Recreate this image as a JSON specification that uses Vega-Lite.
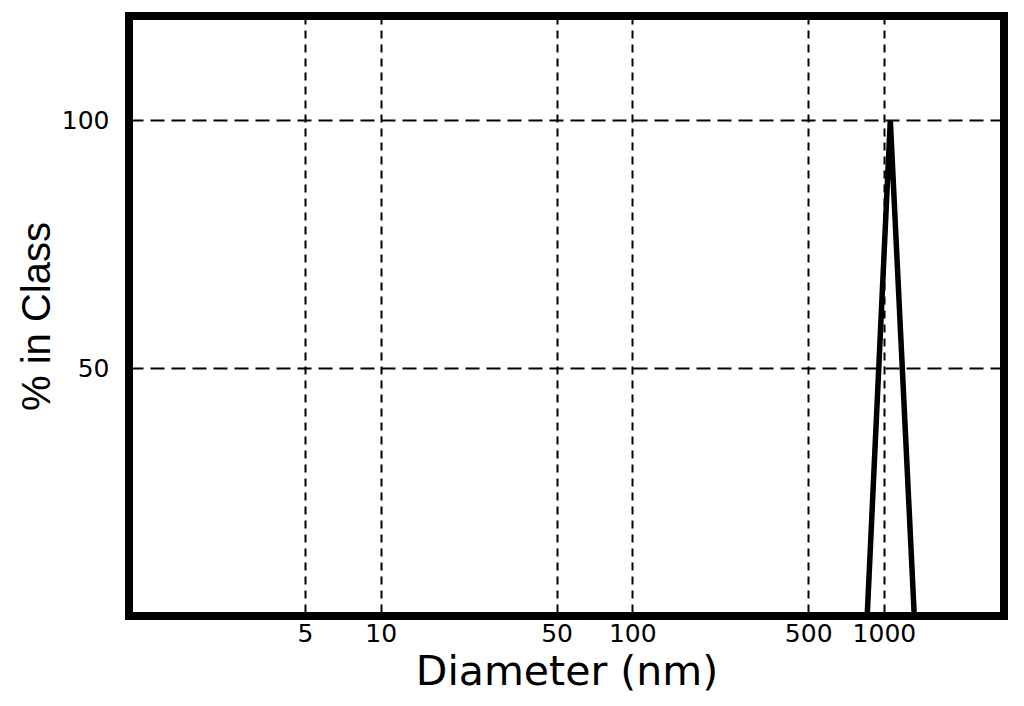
{
  "$schema": "https://vega.github.io/schema/vega-lite/v6.json",
  "autosize": "none",
  "width": 875,
  "height": 600,
  "padding": {"left": 129, "top": 16, "right": 20, "bottom": 90},
  "background": "white",
  "config": {
    "view": {"stroke": "black", "strokeWidth": 8},
    "axis": {"domain": false, "ticks": false, "gridColor": "black", "gridOpacity": 1, "gridWidth": 2, "labelColor": "black", "titleColor": "black"}
  },
  "data": {
    "values": [
      {"d": 858, "p": 0},
      {"d": 1060, "p": 100},
      {"d": 1320, "p": 0}
    ]
  },
  "mark": {"type": "line", "color": "black", "strokeWidth": 5.5, "clip": true, "strokeJoin": "miter"},
  "encoding": {
    "x": {
      "field": "d", "type": "quantitative",
      "scale": {"type": "log", "domain": [1, 3000], "nice": false},
      "axis": {
        "title": "Diameter (nm)",
        "values": [5, 10, 50, 100, 500, 1000],
        "format": "d",
        "grid": true, "gridDash": [8, 6],
        "labelFont": "DejaVu Sans", "labelFontSize": 25, "labelPadding": 5,
        "titleFont": "DejaVu Sans", "titleFontSize": 41, "titleFontWeight": "normal",
        "titleBaseline": "alphabetic", "titleY": 68
      }
    },
    "y": {
      "field": "p", "type": "quantitative",
      "scale": {"domain": [0, 121], "nice": false},
      "axis": {
        "title": "% in Class",
        "values": [50, 100],
        "grid": true, "gridDash": [14, 7],
        "labelFont": "DejaVu Sans", "labelFontSize": 25, "labelPadding": 20,
        "titleFont": "Liberation Sans", "titleFontSize": 40, "titleFontWeight": "normal",
        "titleBaseline": "alphabetic", "titleX": -80, "titleY": 300, "titleAngle": -90, "titleAlign": "center"
      }
    }
  }
}
